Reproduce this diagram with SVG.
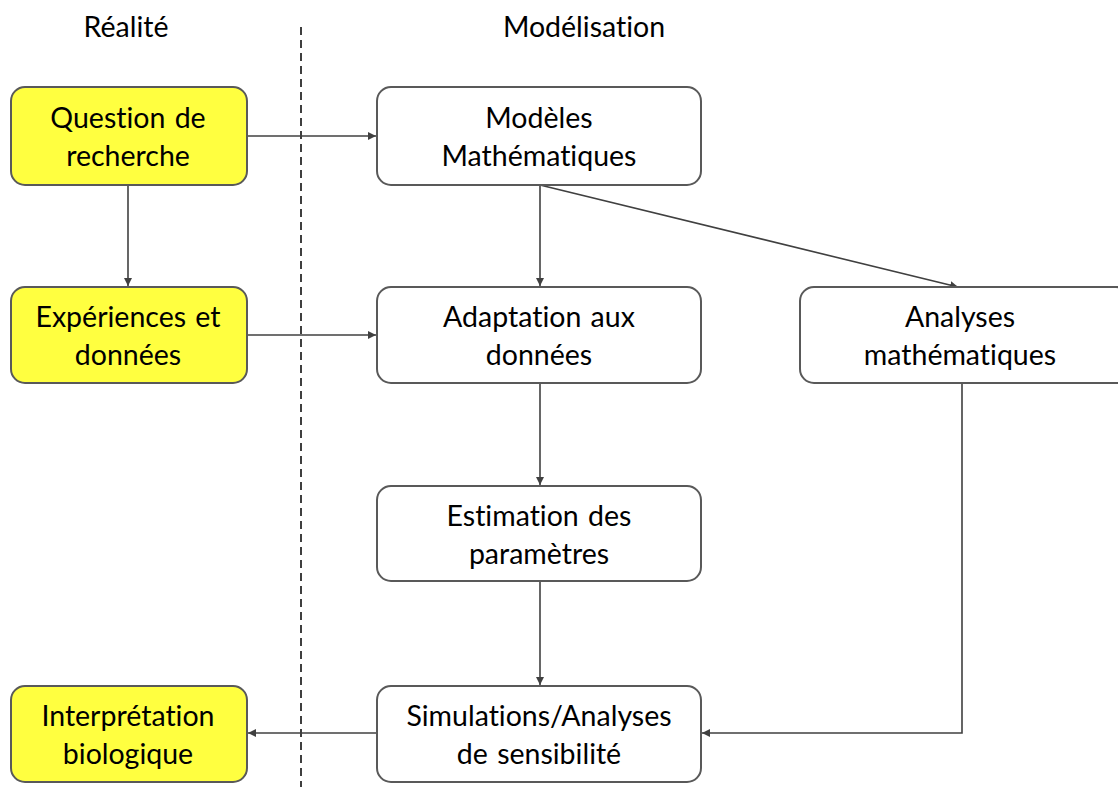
<svg xmlns="http://www.w3.org/2000/svg" width="1118" height="787" viewBox="0 0 1118 787">
<style>
.box{fill:#fff;stroke:#595959;stroke-width:2}
.y{fill:#ffff40}
.t{font-family:Lato,"Open Sans","Liberation Sans",sans-serif;font-size:28.5px;fill:#000;text-anchor:middle;font-variant-ligatures:none;word-spacing:2px}
.c{stroke:#404040;stroke-width:1.6;fill:none}
</style>
<defs>
<marker id="a" viewBox="0 0 10 10" refX="10" refY="5" markerWidth="8" markerHeight="8" markerUnits="userSpaceOnUse" orient="auto"><path d="M0,0L10,5L0,10z" fill="#404040"/></marker>
</defs>
<text class="t" x="126" y="37">Réalité</text>
<text class="t" x="584" y="37">Modélisation</text>
<line x1="301" y1="27" x2="301" y2="787" stroke="#000" stroke-width="1.5" stroke-dasharray="8,5"/>
<g id="connectors" class="c" marker-end="url(#a)">
<line x1="247" y1="136" x2="376" y2="136"/>
<line x1="128" y1="185" x2="128" y2="286"/>
<line x1="247" y1="335" x2="376" y2="335"/>
<line x1="540" y1="185" x2="540" y2="286"/>
<line x1="540" y1="185" x2="958" y2="287"/>
<line x1="540" y1="383" x2="540" y2="485"/>
<line x1="540" y1="581" x2="540" y2="685"/>
<polyline points="962,383 962,733 702,733"/>
<line x1="377" y1="733" x2="248" y2="733"/>
</g>
<g id="q"><rect class="box y" x="11" y="87" width="236" height="98" rx="14"/><text class="t" x="128" y="128">Question de</text><text class="t" x="128" y="166">recherche</text></g>
<g id="exp"><rect class="box y" x="11" y="287" width="236" height="96" rx="14"/><text class="t" x="128" y="327">Expériences et</text><text class="t" x="128" y="365">données</text></g>
<g id="interp"><rect class="box y" x="11" y="686" width="236" height="96" rx="14"/><text class="t" x="128" y="726">Interprétation</text><text class="t" x="128" y="764">biologique</text></g>
<g id="modeles"><rect class="box" x="377" y="87" width="324" height="98" rx="14"/><text class="t" x="539" y="128">Modèles</text><text class="t" x="539" y="166">Mathématiques</text></g>
<g id="adapt"><rect class="box" x="377" y="287" width="324" height="96" rx="14"/><text class="t" x="539" y="327">Adaptation aux</text><text class="t" x="539" y="365">données</text></g>
<g id="estim"><rect class="box" x="377" y="486" width="324" height="95" rx="14"/><text class="t" x="539" y="526">Estimation des</text><text class="t" x="539" y="564">paramètres</text></g>
<g id="simul"><rect class="box" x="377" y="686" width="324" height="96" rx="14"/><text class="t" x="539" y="726">Simulations/Analyses</text><text class="t" x="539" y="764">de sensibilité</text></g>
<g id="analyses"><rect class="box" x="800" y="287" width="330" height="96" rx="14"/><text class="t" x="960" y="327">Analyses</text><text class="t" x="960" y="365">mathématiques</text></g>
</svg>
